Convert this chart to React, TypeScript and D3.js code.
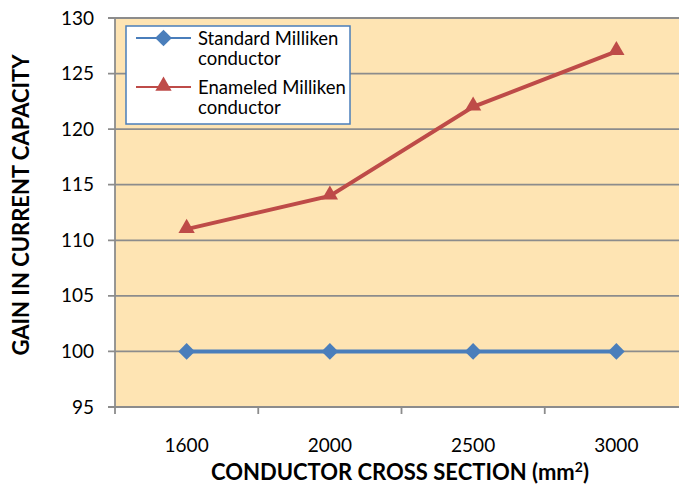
import React from "react";
import * as d3 from "d3";

const categories = ["1600", "2000", "2500", "3000"];
const standardValues = [100, 100, 100, 100];
const enameledValues = [111, 114, 122, 127];
const yTicks = [95, 100, 105, 110, 115, 120, 125, 130];
const seriesNames = ["Standard Milliken|conductor", "Enameled Milliken|conductor"];

const W = 679, H = 485;
const left = 115, top = 18, bottom = 407, right = 688;
const FONT = "Lato, 'Open Sans', sans-serif";

export default function App() {
  const x = d3.scaleBand<string>().domain(categories).range([left, right]);
  const y = d3.scaleLinear().domain([95, 130]).range([bottom, top]);
  const cx = (c: string) => (x(c) as number) + x.bandwidth() / 2;
  const line = d3.line<number>().x((_, i) => cx(categories[i])).y((v) => y(v));
  const diamond = d3.symbol().type(d3.symbolSquare).size(140)();
  const tri = d3.symbol().type(d3.symbolTriangle).size(115)();
  const blue = "#4A7EBB";
  const red = "#BE4B48";
  const grid = "#8C8C8C";
  return (
    <svg width={W} height={H} style={{ position: "absolute", left: 0, top: 0, background: "#fff" }}>
      <rect x={left} y={top} width={right - left} height={bottom - top} fill="#FEE4B3" />
      {yTicks.map((t) => (
        <g key={t}>
          <line x1={left - 7} x2={right} y1={y(t)} y2={y(t)} stroke={grid} strokeWidth={1.8} />
          <text x={94} y={y(t) + 6.5} textAnchor="end" fontFamily={FONT} fontSize={19} fill="#000">{t}</text>
        </g>
      ))}
      <line x1={left} x2={left} y1={top} y2={bottom} stroke={grid} strokeWidth={1.8} />
      {categories.map((c) => (
        <g key={c}>
          <line x1={x(c) as number} x2={x(c) as number} y1={bottom} y2={bottom + 7} stroke={grid} strokeWidth={1.8} />
          <text x={cx(c)} y={452} textAnchor="middle" fontFamily={FONT} fontSize={19} fill="#000">{c}</text>
        </g>
      ))}
      <path d={line(standardValues) as string} fill="none" stroke={blue} strokeWidth={4} />
      {standardValues.map((v, i) => (
        <path key={i} d={diamond as string} transform={`translate(${cx(categories[i])},${y(v)}) rotate(45)`} fill={blue} />
      ))}
      <path d={line(enameledValues) as string} fill="none" stroke={red} strokeWidth={4} />
      {enameledValues.map((v, i) => (
        <path key={i} d={tri as string} transform={`translate(${cx(categories[i])},${y(v) - 1})`} fill={red} />
      ))}
      <rect x={126} y={26} width={224} height={98} fill="#fff" stroke={blue} strokeWidth={1.5} />
      {seriesNames.map((n, i) => {
        const ly = 38 + i * 49;
        const [a, b] = n.split("|");
        return (
          <g key={n}>
            <line x1={136} x2={191} y1={ly} y2={ly} stroke={i === 0 ? blue : red} strokeWidth={2} />
            <path d={(i === 0 ? diamond : tri) as string} transform={`translate(163.5,${ly - (i === 1 ? 1 : 0)})${i === 0 ? " rotate(45)" : ""}`} fill={i === 0 ? blue : red} />
            <text x={198} y={ly + 7} fontFamily={FONT} fontSize={18.5} fill="#000">{a}</text>
            <text x={198} y={ly + 27} fontFamily={FONT} fontSize={18.5} fill="#000">{b}</text>
          </g>
        );
      })}
      <text transform={`translate(29,205) rotate(-90)`} textAnchor="middle" fontFamily={FONT} fontWeight="bold" fontSize={22} fill="#000">GAIN IN CURRENT CAPACITY</text>
      <text x={400} y={480} textAnchor="middle" fontFamily={FONT} fontWeight="bold" fontSize={22} fill="#000">
        CONDUCTOR CROSS SECTION (mm<tspan dy={-8} fontSize={14}>2</tspan><tspan dy={8}>)</tspan>
      </text>
    </svg>
  );
}
